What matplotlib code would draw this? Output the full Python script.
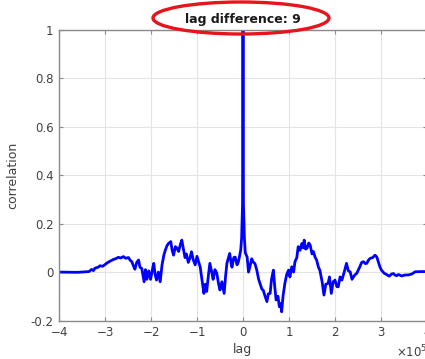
import matplotlib
matplotlib.use("Agg")
import matplotlib.pyplot as plt
from matplotlib.patches import Ellipse
from matplotlib.ticker import ScalarFormatter

# lag in units of 1e5
lag = [
    -4.00, -3.60, -3.35, -3.29, -3.25, -3.22, -3.15, -3.11, -3.05, -2.96,
    -2.90, -2.82, -2.76, -2.71, -2.66, -2.60, -2.55, -2.49, -2.45, -2.42,
    -2.38, -2.35, -2.31, -2.27, -2.24, -2.20, -2.15, -2.12, -2.09, -2.05,
    -2.01, -1.97, -1.94, -1.91, -1.88, -1.84, -1.80, -1.76, -1.72, -1.69,
    -1.65, -1.62, -1.57, -1.54, -1.51, -1.47, -1.44, -1.40, -1.36, -1.33,
    -1.30, -1.26, -1.23, -1.19, -1.15, -1.12, -1.08, -1.04, -1.00, -0.97,
    -0.93, -0.90, -0.85, -0.82, -0.79, -0.75, -0.72, -0.68, -0.65, -0.61,
    -0.57, -0.53, -0.50, -0.46, -0.41, -0.38, -0.35, -0.29, -0.26, -0.24,
    -0.20, -0.17, -0.13, -0.10, -0.07, -0.05, -0.03, -0.01, 0.00, 0.01,
    0.03, 0.05, 0.09, 0.12, 0.15, 0.19, 0.22, 0.26, 0.30, 0.34,
    0.37, 0.41, 0.44, 0.48, 0.52, 0.55, 0.59, 0.62, 0.66, 0.69,
    0.72, 0.76, 0.79, 0.82, 0.84, 0.87, 0.91, 0.95, 0.99, 1.02,
    1.06, 1.10, 1.13, 1.17, 1.20, 1.24, 1.28, 1.31, 1.33, 1.36,
    1.39, 1.43, 1.46, 1.50, 1.53, 1.57, 1.60, 1.64, 1.67, 1.72,
    1.76, 1.80, 1.85, 1.88, 1.92, 1.96, 2.00, 2.04, 2.07, 2.11,
    2.15, 2.20, 2.25, 2.29, 2.33, 2.37, 2.40, 2.44, 2.47, 2.51,
    2.54, 2.58, 2.62, 2.66, 2.69, 2.73, 2.76, 2.82, 2.87, 2.91,
    2.94, 2.98, 3.01, 3.07, 3.12, 3.18, 3.23, 3.27, 3.30, 3.34,
    3.38, 3.45, 3.52, 3.59, 3.67, 3.74, 3.85, 4.00,
]
corr = [
    0.000, -0.001, 0.002, 0.011, 0.006, 0.016, 0.020, 0.026, 0.024, 0.037,
    0.044, 0.052, 0.056, 0.061, 0.058, 0.064, 0.057, 0.060, 0.048, 0.044,
    0.025, 0.012, 0.040, 0.050, 0.020, 0.015, -0.040, 0.010, -0.030, 0.005,
    -0.030, 0.010, 0.036, -0.010, -0.033, 0.000, -0.040, 0.030, 0.070, 0.090,
    0.110, 0.118, 0.126, 0.090, 0.070, 0.105, 0.100, 0.085, 0.115, 0.132,
    0.100, 0.060, 0.075, 0.040, 0.060, 0.084, 0.050, 0.030, 0.065, 0.045,
    0.020, -0.020, -0.088, -0.050, -0.080, -0.010, 0.036, 0.000, -0.030, 0.010,
    -0.005, -0.050, -0.074, -0.040, -0.088, -0.020, 0.036, 0.077, 0.040, 0.020,
    0.060, 0.062, 0.030, 0.042, 0.070, 0.090, 0.140, 0.280, 1.000, 0.280,
    0.140, 0.080, 0.062, 0.000, 0.022, 0.055, 0.042, 0.035, 0.008, -0.030,
    -0.047, -0.070, -0.075, -0.100, -0.122, -0.090, -0.088, -0.030, 0.008, -0.060,
    -0.115, -0.100, -0.143, -0.130, -0.164, -0.100, -0.047, -0.010, 0.008, -0.020,
    0.022, 0.000, 0.043, 0.060, 0.105, 0.090, 0.118, 0.100, 0.132, 0.095,
    0.098, 0.120, 0.112, 0.075, 0.085, 0.060, 0.050, 0.020, 0.008, -0.040,
    -0.095, -0.050, -0.047, -0.020, -0.088, -0.040, -0.033, -0.060, -0.061, -0.020,
    -0.033, 0.000, 0.036, 0.005, 0.001, -0.030, -0.020, -0.010, -0.006, 0.010,
    0.022, 0.040, 0.043, 0.035, 0.036, 0.050, 0.056, 0.060, 0.070, 0.062,
    0.043, 0.020, 0.008, -0.005, -0.010, -0.017, -0.008, -0.006, -0.012, -0.015,
    -0.010, -0.016, -0.012, -0.012, -0.008, 0.001, 0.002, 0.002,
]

x_ticks = [-4, -3, -2, -1, 0, 1, 2, 3, 4]
y_ticks = [-0.2, 0, 0.2, 0.4, 0.6, 0.8, 1]
y_tick_labels = ["-0.2", "0", "0.2", "0.4", "0.6", "0.8", "1"]

TEXT = "#404040"
SPINE = "#8a8a8a"

fig = plt.figure(figsize=(4.25, 3.59), dpi=100)
W, H = 425, 359
ax = fig.add_axes([59 / W, 1 - 320.5 / H, (427 - 59) / W, (320.5 - 30) / H])

ax.plot([v * 1e5 for v in lag], corr, color="#0000ff", lw=2.0)

ax.set_xlim(-4e5, 4e5)
ax.set_ylim(-0.2, 1)
ax.set_xticks([v * 1e5 for v in x_ticks])
ax.set_yticks(y_ticks)
ax.set_yticklabels(y_tick_labels)

fmt = ScalarFormatter(useMathText=True)
fmt.set_powerlimits((0, 0))
ax.xaxis.set_major_formatter(fmt)
ax.xaxis.get_offset_text().set_fontsize(8.5)
ax.xaxis.get_offset_text().set_color(TEXT)

ax.grid(True, color="#e4e4e4", lw=0.8)
ax.tick_params(direction="in", top=True, right=True, length=3,
               color=SPINE, labelcolor=TEXT, labelsize=8.5, pad=4)
for s in ax.spines.values():
    s.set_color(SPINE)
    s.set_linewidth(1.0)

ax.set_xlabel("lag", color=TEXT, fontsize=9, labelpad=3)
ax.set_ylabel("correlation", color=TEXT, fontsize=9, labelpad=8)

fig.text(243 / W, 1 - 19 / H, "lag difference: 9", ha="center", va="center",
         fontsize=9, fontweight="bold", color="#1a1a1a")
fig.patches.append(Ellipse((241 / W, 1 - 18 / H), 176 / W, 32 / H,
                           transform=fig.transFigure, fill=False,
                           edgecolor="#e8141b", lw=2.4))

fig.savefig("out.png", dpi=100)
